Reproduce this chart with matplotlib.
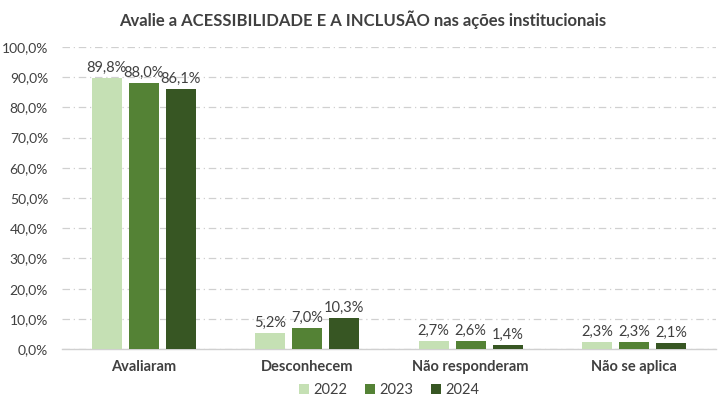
import matplotlib
matplotlib.use("Agg")
import matplotlib.pyplot as plt
import numpy as np

categorias = ["Avaliaram", "Desconhecem", "Não responderam", "Não se aplica"]
anos = ["2022", "2023", "2024"]
v2022 = [89.8, 5.2, 2.7, 2.3]
v2023 = [88.0, 7.0, 2.6, 2.3]
v2024 = [86.1, 10.3, 1.4, 2.1]
cores = ["#C5E0B4", "#548235", "#375623"]

plt.rcParams['font.family'] = ['Lato', 'DejaVu Sans']

fig = plt.figure(figsize=(7.25, 4.05), dpi=100)
ax = fig.add_axes([0.0855, 0.138, 0.902, 0.746])

x = np.arange(len(categorias))
largura = 0.183
passo = 0.226
for i, (ano, vals, cor) in enumerate(zip(anos, [v2022, v2023, v2024], cores)):
    pos = x + (i - 1) * passo
    ax.bar(pos, vals, largura, color=cor, label=ano, zorder=3)
    for p, v in zip(pos, vals):
        ax.text(p, v + 1.0, f"{v:.1f}%".replace(".", ","), ha="center", va="bottom",
                fontsize=10.5, color="#404040", zorder=4)

ax.set_xlim(-0.5, 3.5)
ax.set_ylim(0, 100)
ax.set_yticks(np.arange(0, 101, 10))
ax.set_yticklabels([f"{t:.1f}%".replace(".", ",") for t in np.arange(0, 101, 10)],
                   fontsize=10, color="#404040")
ax.set_xticks(x)
ax.set_xticklabels(categorias, fontsize=10.5, fontweight="bold", color="#404040")
ax.tick_params(length=0, pad=8)
ax.tick_params(axis="y", pad=10)

ax.grid(axis="y", color="#D0D0D0", linestyle=(0, (6, 3, 1, 3)), linewidth=0.9, zorder=0)
for s in ["top", "right", "left"]:
    ax.spines[s].set_visible(False)
ax.spines["bottom"].set_color("#D0D0D0")
ax.spines["bottom"].set_linewidth(1)

fig.suptitle("Avalie a ACESSIBILIDADE E A INCLUSÃO nas ações institucionais",
             x=0.5, y=0.975, fontsize=12, fontweight="bold", color="#404040")

ax.legend(loc="center", bbox_to_anchor=(0.5, -0.135), ncol=3, frameon=False,
          fontsize=10.5, handlelength=0.7, handleheight=0.7, handletextpad=0.3,
          columnspacing=1.2, labelcolor="#404040")

fig.savefig("out.png", dpi=100)
